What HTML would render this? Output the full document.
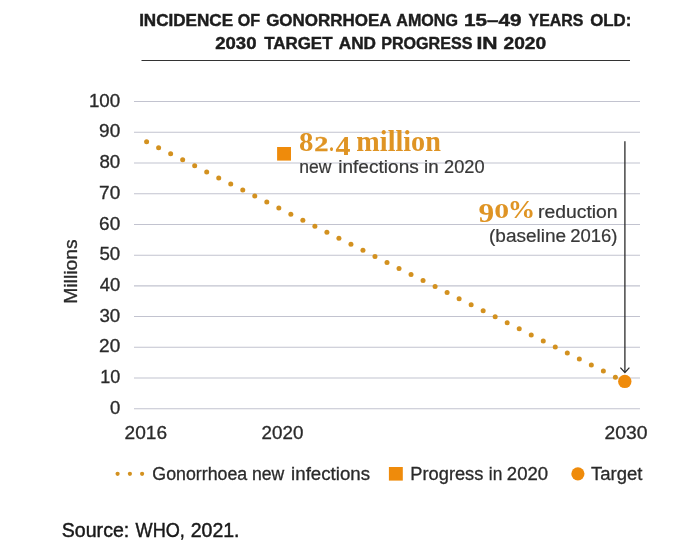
<!DOCTYPE html>
<html><head><meta charset="utf-8"><title>Gonorrhoea incidence</title>
<style>
html,body{margin:0;padding:0;background:#fff;}
body{width:676px;height:549px;overflow:hidden;}
svg{display:block;}
text{font-family:"Liberation Sans",sans-serif;fill:#2a2a2a;stroke:#2a2a2a;stroke-width:0.3px;}
.ax{font-size:18px;}
.an{fill:#383838;stroke:#383838;stroke-width:0.22px;}
.ttl{font-size:17.3px;font-weight:bold;fill:#1d1d1d;stroke:#1d1d1d;stroke-width:0.45px;}
.ser{font-family:"Liberation Serif",serif;font-weight:bold;fill:#df9424;stroke:none;}
</style></head><body>
<svg width="676" height="549" viewBox="0 0 676 549">
<rect width="676" height="549" fill="#ffffff"/>
<text y="25.8" class="ttl"><tspan x="139.13" textLength="93.92" lengthAdjust="spacingAndGlyphs">INCIDENCE</tspan> <tspan x="237.80" textLength="22.33" lengthAdjust="spacingAndGlyphs">OF</tspan> <tspan x="266.17" textLength="124.65" lengthAdjust="spacingAndGlyphs">GONORRHOEA</tspan> <tspan x="396.35" textLength="61.60" lengthAdjust="spacingAndGlyphs">AMONG</tspan> <tspan x="464.01" textLength="57.40" lengthAdjust="spacingAndGlyphs">15–49</tspan> <tspan x="528.55" textLength="54.77" lengthAdjust="spacingAndGlyphs">YEARS</tspan> <tspan x="590.17" textLength="41.12" lengthAdjust="spacingAndGlyphs">OLD:</tspan></text>
<text y="48.6" class="ttl"><tspan x="215.22" textLength="41.23" lengthAdjust="spacingAndGlyphs">2030</tspan> <tspan x="264.20" textLength="68.32" lengthAdjust="spacingAndGlyphs">TARGET</tspan> <tspan x="338.73" textLength="37.27" lengthAdjust="spacingAndGlyphs">AND</tspan> <tspan x="381.19" textLength="91.23" lengthAdjust="spacingAndGlyphs">PROGRESS</tspan> <tspan x="476.48" textLength="21.11" lengthAdjust="spacingAndGlyphs">IN</tspan> <tspan x="503.50" textLength="42.68" lengthAdjust="spacingAndGlyphs">2020</tspan></text>
<line x1="141.5" x2="630" y1="60.4" y2="60.4" stroke="#333" stroke-width="1.05"/>
<line x1="134" x2="640" y1="408.75" y2="408.75" stroke="#c2c3cf" stroke-width="1.05"/>
<line x1="134" x2="640" y1="378.03" y2="378.03" stroke="#c2c3cf" stroke-width="1.05"/>
<line x1="134" x2="640" y1="347.31" y2="347.31" stroke="#c2c3cf" stroke-width="1.05"/>
<line x1="134" x2="640" y1="316.59" y2="316.59" stroke="#c2c3cf" stroke-width="1.05"/>
<line x1="134" x2="640" y1="285.87" y2="285.87" stroke="#c2c3cf" stroke-width="1.05"/>
<line x1="134" x2="640" y1="255.15" y2="255.15" stroke="#c2c3cf" stroke-width="1.05"/>
<line x1="134" x2="640" y1="224.43" y2="224.43" stroke="#c2c3cf" stroke-width="1.05"/>
<line x1="134" x2="640" y1="193.71" y2="193.71" stroke="#c2c3cf" stroke-width="1.05"/>
<line x1="134" x2="640" y1="162.99" y2="162.99" stroke="#c2c3cf" stroke-width="1.05"/>
<line x1="134" x2="640" y1="132.27" y2="132.27" stroke="#c2c3cf" stroke-width="1.05"/>
<line x1="134" x2="640" y1="101.55" y2="101.55" stroke="#c2c3cf" stroke-width="1.05"/>

<text y="413.90" class="ax" style="font-size:17.5px"><tspan x="109.92" textLength="10.29" lengthAdjust="spacingAndGlyphs">0</tspan></text>
<text y="383.18" class="ax" style="font-size:17.5px"><tspan x="100.17" textLength="20.02" lengthAdjust="spacingAndGlyphs">10</tspan></text>
<text y="352.46" class="ax" style="font-size:17.5px"><tspan x="99.11" textLength="21.11" lengthAdjust="spacingAndGlyphs">20</tspan></text>
<text y="321.74" class="ax" style="font-size:17.5px"><tspan x="99.42" textLength="20.80" lengthAdjust="spacingAndGlyphs">30</tspan></text>
<text y="291.02" class="ax" style="font-size:17.5px"><tspan x="99.71" textLength="20.50" lengthAdjust="spacingAndGlyphs">40</tspan></text>
<text y="260.30" class="ax" style="font-size:17.5px"><tspan x="99.42" textLength="20.80" lengthAdjust="spacingAndGlyphs">50</tspan></text>
<text y="229.58" class="ax" style="font-size:17.5px"><tspan x="99.11" textLength="21.11" lengthAdjust="spacingAndGlyphs">60</tspan></text>
<text y="198.86" class="ax" style="font-size:17.5px"><tspan x="99.11" textLength="21.11" lengthAdjust="spacingAndGlyphs">70</tspan></text>
<text y="168.14" class="ax" style="font-size:17.5px"><tspan x="99.42" textLength="20.80" lengthAdjust="spacingAndGlyphs">80</tspan></text>
<text y="137.42" class="ax" style="font-size:17.5px"><tspan x="99.11" textLength="21.11" lengthAdjust="spacingAndGlyphs">90</tspan></text>
<text y="106.70" class="ax" style="font-size:17.5px"><tspan x="88.93" textLength="31.29" lengthAdjust="spacingAndGlyphs">100</tspan></text>

<text transform="translate(76.9,271.6) rotate(-90)" text-anchor="middle" class="ax" textLength="64.2" lengthAdjust="spacingAndGlyphs">Millions</text>
<circle cx="146.60" cy="141.70" r="2.5" fill="#d3911f"/>
<circle cx="158.62" cy="147.74" r="2.5" fill="#d3911f"/>
<circle cx="170.64" cy="153.77" r="2.5" fill="#d3911f"/>
<circle cx="182.66" cy="159.81" r="2.5" fill="#d3911f"/>
<circle cx="194.68" cy="165.85" r="2.5" fill="#d3911f"/>
<circle cx="206.70" cy="171.88" r="2.5" fill="#d3911f"/>
<circle cx="218.72" cy="177.92" r="2.5" fill="#d3911f"/>
<circle cx="230.74" cy="183.96" r="2.5" fill="#d3911f"/>
<circle cx="242.76" cy="190.00" r="2.5" fill="#d3911f"/>
<circle cx="254.78" cy="196.03" r="2.5" fill="#d3911f"/>
<circle cx="266.80" cy="202.07" r="2.5" fill="#d3911f"/>
<circle cx="278.82" cy="208.11" r="2.5" fill="#d3911f"/>
<circle cx="290.84" cy="214.14" r="2.5" fill="#d3911f"/>
<circle cx="302.86" cy="220.18" r="2.5" fill="#d3911f"/>
<circle cx="314.88" cy="226.22" r="2.5" fill="#d3911f"/>
<circle cx="326.90" cy="232.25" r="2.5" fill="#d3911f"/>
<circle cx="338.92" cy="238.29" r="2.5" fill="#d3911f"/>
<circle cx="350.94" cy="244.33" r="2.5" fill="#d3911f"/>
<circle cx="362.96" cy="250.37" r="2.5" fill="#d3911f"/>
<circle cx="374.98" cy="256.40" r="2.5" fill="#d3911f"/>
<circle cx="387.00" cy="262.44" r="2.5" fill="#d3911f"/>
<circle cx="399.02" cy="268.48" r="2.5" fill="#d3911f"/>
<circle cx="411.04" cy="274.51" r="2.5" fill="#d3911f"/>
<circle cx="423.06" cy="280.55" r="2.5" fill="#d3911f"/>
<circle cx="435.08" cy="286.59" r="2.5" fill="#d3911f"/>
<circle cx="447.10" cy="292.62" r="2.5" fill="#d3911f"/>
<circle cx="459.12" cy="298.66" r="2.5" fill="#d3911f"/>
<circle cx="471.14" cy="304.70" r="2.5" fill="#d3911f"/>
<circle cx="483.16" cy="310.74" r="2.5" fill="#d3911f"/>
<circle cx="495.18" cy="316.77" r="2.5" fill="#d3911f"/>
<circle cx="507.20" cy="322.81" r="2.5" fill="#d3911f"/>
<circle cx="519.22" cy="328.85" r="2.5" fill="#d3911f"/>
<circle cx="531.24" cy="334.88" r="2.5" fill="#d3911f"/>
<circle cx="543.26" cy="340.92" r="2.5" fill="#d3911f"/>
<circle cx="555.28" cy="346.96" r="2.5" fill="#d3911f"/>
<circle cx="567.30" cy="353.00" r="2.5" fill="#d3911f"/>
<circle cx="579.32" cy="359.03" r="2.5" fill="#d3911f"/>
<circle cx="591.34" cy="365.07" r="2.5" fill="#d3911f"/>
<circle cx="603.36" cy="371.11" r="2.5" fill="#d3911f"/>
<circle cx="615.38" cy="377.14" r="2.5" fill="#d3911f"/>

<rect x="277.1" y="147" width="13.9" height="13.6" fill="#ef8b0b"/>
<text y="150.9" class="ser" font-size="29"><tspan font-size="26.3" x="299.10" textLength="14.40" lengthAdjust="spacingAndGlyphs">8</tspan><tspan font-size="20.9" stroke="#df9424" stroke-width="0.35" x="314.31" textLength="14.17" lengthAdjust="spacingAndGlyphs">2</tspan><tspan font-size="24" x="329.13" textLength="4.53" lengthAdjust="spacingAndGlyphs">.</tspan><tspan dy="3.6" font-size="28" x="335.40" textLength="14.97" lengthAdjust="spacingAndGlyphs">4</tspan> <tspan dy="-3.6" x="356.36" textLength="84.50" lengthAdjust="spacingAndGlyphs">million</tspan></text>
<text y="173.3" class="ax an"><tspan x="299.20" textLength="32.18" lengthAdjust="spacingAndGlyphs">new</tspan> <tspan x="338.21" textLength="80.59" lengthAdjust="spacingAndGlyphs">infections</tspan> <tspan x="424.13" textLength="14.63" lengthAdjust="spacingAndGlyphs">in</tspan> <tspan x="444.05" textLength="40.51" lengthAdjust="spacingAndGlyphs">2020</tspan></text>
<text y="218" class="ser" font-size="25"><tspan dy="3.7" font-size="27.6" x="478.51" textLength="15.67" lengthAdjust="spacingAndGlyphs">9</tspan><tspan dy="-3.7" font-size="20" x="494.37" textLength="14.86" lengthAdjust="spacingAndGlyphs">0</tspan><tspan font-size="25.5" x="507.73" textLength="27.45" lengthAdjust="spacingAndGlyphs">%</tspan></text>
<text y="217.6" class="ax an"><tspan x="537.99" textLength="79.60" lengthAdjust="spacingAndGlyphs">reduction</tspan></text>
<text y="241.5" class="ax an"><tspan x="489.01" textLength="77.16" lengthAdjust="spacingAndGlyphs">(baseline</tspan> <tspan x="570.23" textLength="47.22" lengthAdjust="spacingAndGlyphs">2016)</tspan></text>
<line x1="624.9" x2="624.9" y1="141.3" y2="372" stroke="#2b2b2b" stroke-width="1.3"/>
<polyline points="620.4,367.6 624.9,372.5 629.4,367.6" fill="none" stroke="#2b2b2b" stroke-width="1.2"/>
<circle cx="624.8" cy="381.4" r="6.7" fill="#ef8b0b"/>
<text y="439.2" class="ax"><tspan x="124.61" textLength="42.47" lengthAdjust="spacingAndGlyphs">2016</tspan> <tspan x="261.62" textLength="41.75" lengthAdjust="spacingAndGlyphs">2020</tspan> <tspan x="604.59" textLength="42.99" lengthAdjust="spacingAndGlyphs">2030</tspan></text>
<circle cx="117.6" cy="473.8" r="2.1" fill="#d3911f"/>
<circle cx="129.9" cy="473.8" r="2.1" fill="#d3911f"/>
<circle cx="142.1" cy="473.8" r="2.1" fill="#d3911f"/>
<text y="480.3" class="ax"><tspan x="152.37" textLength="94.82" lengthAdjust="spacingAndGlyphs">Gonorrhoea</tspan> <tspan x="251.90" textLength="32.29" lengthAdjust="spacingAndGlyphs">new</tspan> <tspan x="291.13" textLength="78.95" lengthAdjust="spacingAndGlyphs">infections</tspan></text>
<rect x="388.9" y="467" width="13.9" height="13.6" fill="#ef8b0b"/>
<text y="480.3" class="ax"><tspan x="410.37" textLength="73.00" lengthAdjust="spacingAndGlyphs">Progress</tspan> <tspan x="488.82" textLength="13.45" lengthAdjust="spacingAndGlyphs">in</tspan> <tspan x="506.83" textLength="41.23" lengthAdjust="spacingAndGlyphs">2020</tspan></text>
<circle cx="577.9" cy="473.8" r="6.6" fill="#ef8b0b"/>
<text y="480.3" class="ax"><tspan x="591.01" textLength="51.43" lengthAdjust="spacingAndGlyphs">Target</tspan></text>
<text y="536.9" font-size="20.6" style="fill:#181818;stroke:#181818;stroke-width:0.45px"><tspan x="61.79" textLength="67.48" lengthAdjust="spacingAndGlyphs">Source:</tspan> <tspan x="135.60" textLength="49.25" lengthAdjust="spacingAndGlyphs">WHO,</tspan> <tspan x="190.68" textLength="48.88" lengthAdjust="spacingAndGlyphs">2021.</tspan></text>
</svg>
</body></html>
